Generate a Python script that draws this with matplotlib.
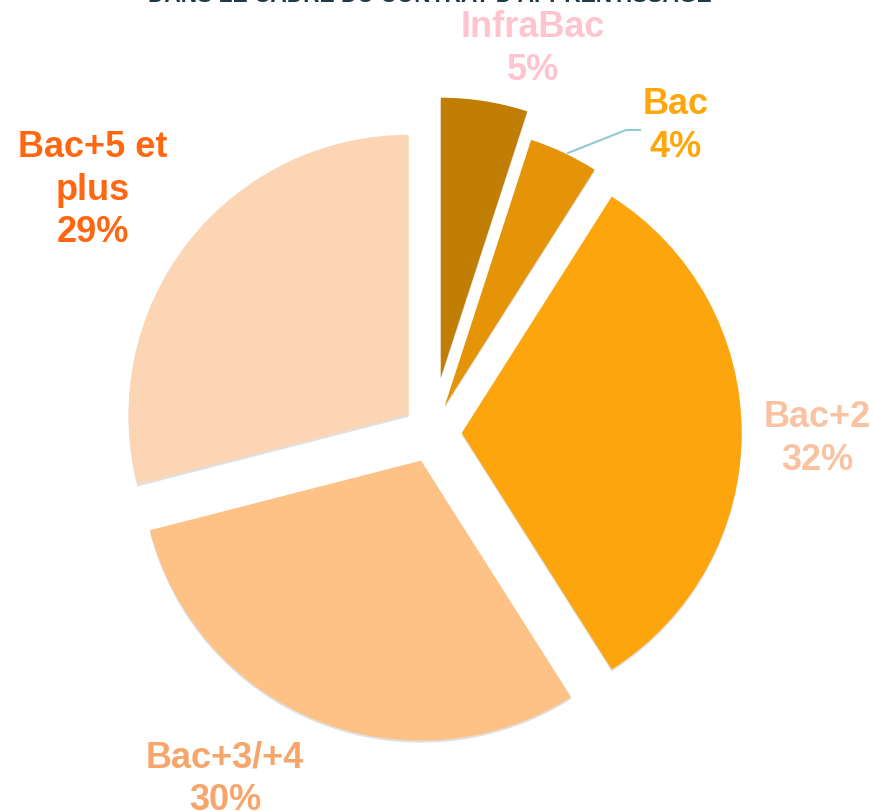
import matplotlib
matplotlib.use("Agg")
import matplotlib.pyplot as plt
import matplotlib.patheffects as pe

categories = ["InfraBac", "Bac", "Bac+2", "Bac+3/+4", "Bac+5 et\nplus"]
values = [5, 4, 32, 30, 29]
title = "DANS LE CADRE DU CONTRAT D'APPRENTISSAGE"

slice_colors = ["#C17E05", "#E49406", "#FDA50C", "#FEC186", "#FCD5B5"]
label_colors = ["#FFC4CF", "#FFA60A", "#F9C3A1", "#F6A66B", "#FF6610"]
explode = [0.2, 0.106, 0.106, 0.106, 0.106]

W, H = 874, 811
fig = plt.figure(figsize=(W / 100, H / 100), dpi=100)
ax = fig.add_axes([0, 0, 1, 1])

cx, cy, R = 432, 433, 280  # pixel center & radius
ax.pie(values, colors=slice_colors, startangle=90, counterclock=False,
       explode=explode, radius=1.0,
       wedgeprops=dict(linewidth=0,
                       path_effects=[pe.SimplePatchShadow(offset=(0, -1.5), shadow_rgbFace="#999999", alpha=0.3),
                                     pe.Normal()]))
ax.set_xlim(-cx / R, (W - cx) / R)
ax.set_ylim(-(H - cy) / R, cy / R)
ax.set_aspect("equal")
ax.axis("off")

font = "Liberation Sans"
fs = 26
label_pos = [(533, 49), (676, 126), (817, 439), (225, 779), (93, 190)]
for cat, v, col, (px, py) in zip(categories, values, label_colors, label_pos):
    fig.text(px / W, 1 - py / H, f"{cat}\n{v}%", color=col, fontsize=fs,
             fontweight="bold", family=font, ha="center", va="center",
             linespacing=1.29)

# leader line for Bac
xs = [568, 626, 640]
ys = [153, 130, 130]
fig.add_artist(plt.Line2D([x / W for x in xs], [1 - y / H for y in ys],
                          color="#93C9D6", linewidth=1.5))

fig.text(430 / W, 1 - (-5) / H, title, color="#1E3A48", fontsize=16.4,
         fontweight="bold", family=font, ha="center", va="center")

fig.savefig("out.png", dpi=100)
